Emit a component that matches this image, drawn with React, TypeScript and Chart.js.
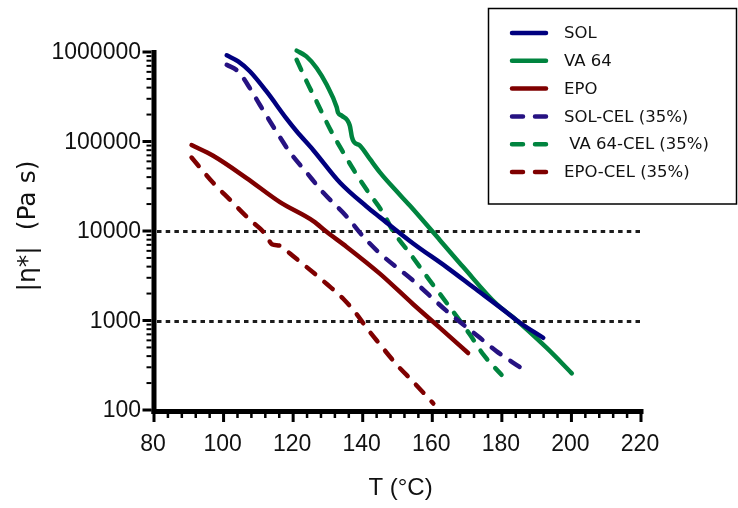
import React, { useEffect, useRef } from "react";
import { Chart, registerables } from "chart.js";
Chart.register(...registerables);

// ---- data ----
const seriesNames = ["SOL", "VA 64", "EPO", "SOL-CEL (35%)", " VA 64-CEL (35%)", "EPO-CEL (35%)"];

const solT = [100.9, 104.2, 107.6, 112.4, 118.1, 121.0, 125.8, 133.5, 141.1, 145.0, 154.5, 164.1, 171.8, 181.4, 185.2, 191.9];
const solV = [918000, 785000, 605000, 360000, 180000, 130000, 80000, 34600, 18800, 14200, 7260, 3950, 2350, 1230, 944, 640];

const va64T = [121.0, 123.8, 126.8, 129.7, 132.5, 132.9, 134.0, 136.3, 136.9, 137.5, 139.2, 142.1, 145.0, 149.3, 153.6, 162.2, 168.9, 178.5, 183.3, 192.9, 200.1];
const va64V = [1035000, 894000, 659000, 427000, 243000, 210000, 194000, 150000, 112000, 98700, 90100, 63400, 44900, 29000, 19100, 7900, 3950, 1520, 1080, 493, 257];

const epoT = [90.8, 97.0, 106.6, 116.2, 125.8, 129.6, 135.4, 145.0, 154.5, 162.2, 170.3];
const epoV = [91200, 69200, 39000, 21000, 12900, 9800, 6640, 3320, 1520, 828, 433];

const solCelT = [100.9, 104.2, 107.6, 110.5, 115.3, 119.1, 123.9, 128.7, 135.4, 140.2, 145.0, 154.5, 164.1, 173.7, 178.5, 185.2];
const solCelV = [720000, 605000, 392000, 254000, 127000, 75500, 44900, 26700, 14500, 8630, 5600, 2790, 1280, 640, 452, 301];

const va64CelT = [121.0, 123.9, 126.8, 130.6, 134.4, 137.3, 141.1, 145.9, 148.8, 153.6, 159.3, 165.1, 170.8, 174.7, 179.9];
const va64CelV = [818000, 467000, 277000, 138000, 75500, 48900, 29000, 15800, 9860, 5600, 2790, 1400, 698, 415, 247];

const epoCelT = [90.8, 97.0, 101.8, 107.6, 111.4, 112.8, 113.9, 116.2, 117.7, 119.1, 123.9, 129.6, 134.4, 138.3, 141.1, 145.0, 149.8, 154.5, 160.3];
const epoCelV = [66200, 34600, 22400, 13300, 9800, 8130, 7130, 6860, 6260, 5600, 3950, 2570, 1750, 1170, 830, 538, 320, 207, 118];

const xTickLabels = [80, 100, 120, 140, 160, 180, 200, 220];
const xMinorStep = 4;
const yTickLabels = [100, 1000, 10000, 100000, 1000000];
const refLines = [10000, 1000];
const xTitle = "T (°C)";
const yTitle = "|η*|  (Pa s)";

const colors = ["#00007f", "#00843f", "#7f0000", "#261282", "#00843f", "#7f0000"];

function pts(t: number[], v: number[]) {
  return t.map((x, i) => ({ x, y: v[i] }));
}

const prismPlugin = {
  id: "prismAxes",
  beforeDatasetsDraw(chart: any) {
    const { ctx, chartArea, scales } = chart;
    const y = scales.y;
    ctx.save();
    ctx.strokeStyle = "#1c1c1c";
    ctx.lineWidth = 3;
    ctx.setLineDash([4.5, 4.2]);
    refLines.forEach((v) => {
      const py = Math.round(y.getPixelForValue(v)) + 0.5;
      ctx.beginPath();
      ctx.moveTo(chartArea.left + 3, py);
      ctx.lineTo(chartArea.right, py);
      ctx.stroke();
    });
    ctx.restore();
  },
  afterDraw(chart: any) {
    const { ctx, chartArea, scales } = chart;
    const x = scales.x;
    const y = scales.y;
    const L = chartArea.left, R = chartArea.right, T = chartArea.top, B = chartArea.bottom;
    ctx.save();
    ctx.fillStyle = "#000";
    // axis bars
    ctx.fillRect(L - 2.5, T - 2, 5, B - T + 6);
    ctx.fillRect(L - 2.5, B - 1, R - L + 5, 5);
    // y ticks
    for (let e = 0; e < yTickLabels.length; e++) {
      const base = yTickLabels[e];
      const py = y.getPixelForValue(base);
      ctx.fillRect(L - 2.5 - 9, py - 1.5, 9, 3);
      if (e < yTickLabels.length - 1) {
        for (let m = 2; m <= 9; m++) {
          const pm = y.getPixelForValue(base * m);
          ctx.fillRect(L - 2.5 - 5, pm - 1, 5, 2);
        }
      }
    }
    // x ticks
    const xmin = xTickLabels[0], xmax = xTickLabels[xTickLabels.length - 1];
    for (let v = xmin; v <= xmax; v += xMinorStep) {
      const px = x.getPixelForValue(v);
      const major = xTickLabels.indexOf(v) >= 0;
      if (major) ctx.fillRect(px - 1.5, B + 3, 3, 9);
      else ctx.fillRect(px - 1.25, B + 3, 2.5, 5);
    }
    // tick labels
    ctx.fillStyle = "#111";
    ctx.font = "23px 'Liberation Sans', Arial, sans-serif";
    ctx.textAlign = "right";
    ctx.textBaseline = "middle";
    yTickLabels.forEach((v) => {
      ctx.fillText(String(v), L - 13, y.getPixelForValue(v) + 1);
    });
    ctx.textAlign = "center";
    xTickLabels.forEach((v) => {
      ctx.fillText(String(v), x.getPixelForValue(v) - 1, B + 35);
    });
    // titles
    ctx.font = "24px 'Liberation Sans', Arial, sans-serif";
    ctx.fillText(xTitle, (L + R) / 2 + 3, B + 78);
    ctx.save();
    ctx.translate(28, 226);
    ctx.rotate(-Math.PI / 2);
    ctx.font = "25px 'DejaVu Sans', sans-serif";
    ctx.fillText(yTitle, 0, 0);
    ctx.restore();
    // legend
    ctx.strokeStyle = "#000";
    ctx.lineWidth = 1.5;
    ctx.setLineDash([]);
    ctx.strokeRect(488.5, 8.5, 248, 195.5);
    ctx.font = "16.5px 'DejaVu Sans', sans-serif";
    ctx.textAlign = "left";
    ctx.textBaseline = "middle";
    chart.data.datasets.forEach((ds: any, i: number) => {
      const ly = 33 + i * 27.8;
      ctx.save();
      ctx.strokeStyle = ds.borderColor;
      ctx.lineWidth = 4.5;
      ctx.lineCap = "round";
      ctx.setLineDash(ds.borderDash || []);
      ctx.beginPath();
      ctx.moveTo(512, ly);
      ctx.lineTo(546, ly);
      ctx.stroke();
      ctx.restore();
      ctx.fillStyle = "#111";
      ctx.fillText(ds.label, 564, ly + 1);
    });
    ctx.restore();
  },
};

export default function App() {
  const ref = useRef<HTMLCanvasElement | null>(null);
  useEffect(() => {
    document.body.style.margin = "0";
    const canvas = ref.current;
    if (!canvas) return;
    const allT = [solT, va64T, epoT, solCelT, va64CelT, epoCelT];
    const allV = [solV, va64V, epoV, solCelV, va64CelV, epoCelV];
    const datasets = seriesNames.map((name, i) => ({
      label: name,
      data: pts(allT[i], allV[i]),
      borderColor: colors[i],
      backgroundColor: colors[i],
      borderWidth: 4.5,
      borderDash: i >= 3 ? [11, 12] : [],
      borderCapStyle: "round" as const,
      borderJoinStyle: "round" as const,
      cubicInterpolationMode: "monotone" as const,
      pointRadius: 0,
      fill: false,
      clip: false as const,
    }));
    const chart = new Chart(canvas, {
      type: "line",
      data: { datasets },
      options: {
        responsive: false,
        animation: false,
        devicePixelRatio: 1,
        layout: { padding: { left: 154, right: 97, top: 52, bottom: 98 } },
        plugins: { legend: { display: false }, tooltip: { enabled: false } },
        scales: {
          x: { type: "linear", min: 80, max: 220, display: false },
          y: { type: "logarithmic", min: 100, max: 1000000, display: false },
        },
      },
      plugins: [prismPlugin],
    });
    return () => chart.destroy();
  }, []);
  return (
    <div style={{ position: "absolute", left: 0, top: 0, width: 738, height: 508, background: "#fff" }}>
      <canvas ref={ref} width={738} height={508} />
    </div>
  );
}
